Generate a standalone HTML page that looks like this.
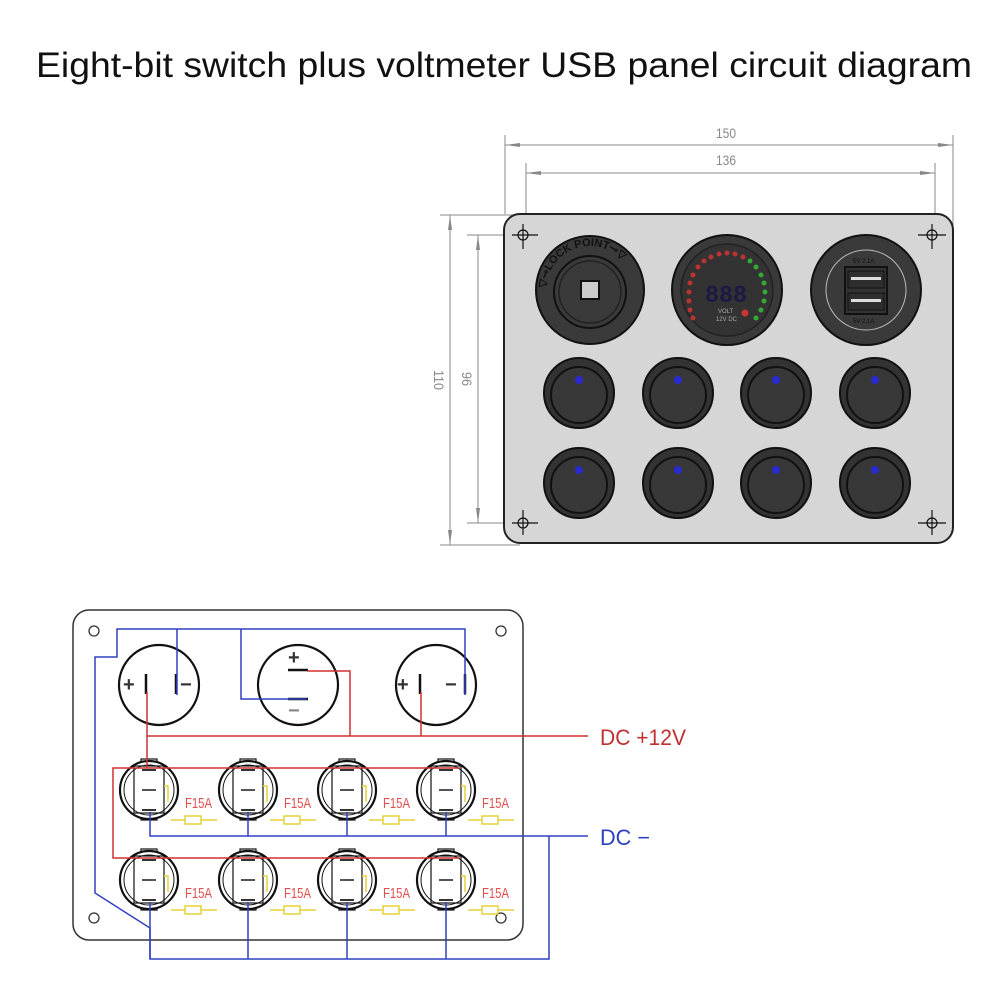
<!DOCTYPE html>
<html><head><meta charset="utf-8"><style>html,body{margin:0;padding:0;background:#fff}svg{display:block}</style></head>
<body>
<svg width="1000" height="1000" viewBox="0 0 1000 1000" xmlns="http://www.w3.org/2000/svg" font-family="Liberation Sans, sans-serif">
<text x="36" y="77" font-size="35" textLength="936" lengthAdjust="spacingAndGlyphs" fill="#111">Eight-bit switch plus voltmeter USB panel circuit diagram</text>

<g stroke="#888" stroke-width="1" fill="none">
<line x1="505" y1="135" x2="505" y2="214"/><line x1="953" y1="135" x2="953" y2="225"/>
<line x1="505" y1="145" x2="953" y2="145"/>
<line x1="526" y1="163" x2="526" y2="240"/><line x1="935" y1="163" x2="935" y2="240"/>
<line x1="526" y1="173" x2="935" y2="173"/>
<line x1="440" y1="215" x2="520" y2="215"/><line x1="440" y1="545" x2="520" y2="545"/>
<line x1="450" y1="215" x2="450" y2="545"/>
<line x1="467" y1="235" x2="520" y2="235"/><line x1="467" y1="523" x2="520" y2="523"/>
<line x1="478" y1="235" x2="478" y2="523"/>
</g>
<g fill="#888">
<polygon points="505,145 520,143 520,147"/><polygon points="953,145 938,143 938,147"/>
<polygon points="526,173 541,171 541,175"/><polygon points="935,173 920,171 920,175"/>
<polygon points="450,215 448,230 452,230"/><polygon points="450,545 448,530 452,530"/>
<polygon points="478,235 476,250 480,250"/><polygon points="478,523 476,508 480,508"/>
</g>
<g fill="#888" font-size="14">
<text x="716" y="138" textLength="20" lengthAdjust="spacingAndGlyphs">150</text>
<text x="716" y="165" textLength="20" lengthAdjust="spacingAndGlyphs">136</text>
<text transform="translate(434,370) rotate(90)" textLength="20" lengthAdjust="spacingAndGlyphs">110</text>
<text transform="translate(462,372) rotate(90)" textLength="14" lengthAdjust="spacingAndGlyphs">96</text>
</g>

<rect x="504" y="214" width="449" height="329" rx="16" fill="#d6d6d6" stroke="#222" stroke-width="2"/>
<g stroke="#111" stroke-width="1.2" fill="none">
<circle cx="523" cy="235" r="5"/><line x1="512" y1="235" x2="538" y2="235"/><line x1="523" y1="224" x2="523" y2="249"/>
<circle cx="932" cy="235" r="5"/><line x1="918" y1="235" x2="946" y2="235"/><line x1="932" y1="224" x2="932" y2="249"/>
<circle cx="523" cy="523" r="5"/><line x1="512" y1="523" x2="538" y2="523"/><line x1="523" y1="510" x2="523" y2="535"/>
<circle cx="932" cy="523" r="5"/><line x1="918" y1="523" x2="946" y2="523"/><line x1="932" y1="510" x2="932" y2="535"/>
</g>
<circle cx="590" cy="290" r="54" fill="#3a3a3a" stroke="#111" stroke-width="2"/>
<circle cx="590" cy="292" r="36" fill="#3a3a3a" stroke="#111" stroke-width="2"/>
<circle cx="590" cy="292" r="31" fill="none" stroke="#222" stroke-width="1.5"/>
<rect x="581" y="281" width="18" height="18" fill="#ccc" stroke="#111" stroke-width="2"/>
<path id="arc1" d="M546,290 A44,44 0 0 1 634,290" fill="none"/>
<text font-size="11" font-weight="bold" fill="#111"><textPath href="#arc1" startOffset="2">▽⊸LOCK POINT⊸▽</textPath></text>
<circle cx="727" cy="290" r="55" fill="#3a3a3a" stroke="#111" stroke-width="2"/>
<circle cx="727" cy="290" r="46" fill="#333" stroke="#222" stroke-width="1.5"/>
<g>
<circle cx="693" cy="318" r="2.5" fill="#b33"/><circle cx="690" cy="310" r="2.5" fill="#b33"/><circle cx="689" cy="301" r="2.5" fill="#b33"/><circle cx="689" cy="292" r="2.5" fill="#b33"/><circle cx="690" cy="283" r="2.5" fill="#b33"/><circle cx="693" cy="275" r="2.5" fill="#b33"/><circle cx="698" cy="267" r="2.5" fill="#b33"/><circle cx="704" cy="261" r="2.5" fill="#b33"/><circle cx="711" cy="257" r="2.5" fill="#b33"/><circle cx="719" cy="254" r="2.5" fill="#b33"/><circle cx="727" cy="253" r="2.5" fill="#b33"/><circle cx="735" cy="254" r="2.5" fill="#b33"/><circle cx="743" cy="257" r="2.5" fill="#b33"/>
<circle cx="750" cy="261" r="2.5" fill="#3a3"/><circle cx="756" cy="267" r="2.5" fill="#3a3"/><circle cx="761" cy="275" r="2.5" fill="#3a3"/><circle cx="764" cy="283" r="2.5" fill="#3a3"/><circle cx="765" cy="292" r="2.5" fill="#3a3"/><circle cx="764" cy="301" r="2.5" fill="#3a3"/><circle cx="761" cy="310" r="2.5" fill="#3a3"/><circle cx="756" cy="318" r="2.5" fill="#3a3"/>
<circle cx="745" cy="313" r="3.5" fill="#c33"/>
</g>
<text x="705" y="302" font-size="24" font-family="Liberation Mono, monospace" font-weight="bold" fill="#1a1a44" textLength="42" lengthAdjust="spacingAndGlyphs">888</text>
<text x="718" y="313" font-size="6" fill="#aaa">VOLT</text><text x="716" y="321" font-size="6" fill="#aaa">12V DC</text>
<circle cx="866" cy="290" r="55" fill="#3a3a3a" stroke="#111" stroke-width="2"/>
<circle cx="866" cy="290" r="40" fill="#3a3a3a" stroke="#bbb" stroke-width="1"/>
<rect x="845" y="267" width="42" height="47" fill="#333" stroke="#111" stroke-width="2"/>
<rect x="848" y="271" width="36" height="17" fill="#2e2e2e" stroke="#111"/><rect x="848" y="293" width="36" height="17" fill="#2e2e2e" stroke="#111"/>
<rect x="851" y="277" width="30" height="3" fill="#ddd"/><rect x="851" y="299" width="30" height="3" fill="#ddd"/>
<text x="853" y="263" font-size="6" fill="#111">5V 2.1A</text><text x="853" y="323" font-size="6" fill="#111">5V 2.1A</text>
</svg>
<svg width="1000" height="1000" viewBox="0 0 1000 1000" xmlns="http://www.w3.org/2000/svg" style="position:absolute;left:0;top:0" font-family="Liberation Sans, sans-serif">
<defs>
<g id="s">
<circle cx="0" cy="0" r="35" fill="#333" stroke="#111" stroke-width="2"/>
<circle cx="0" cy="2" r="28" fill="#383838" stroke="#111" stroke-width="2"/>
<circle cx="0" cy="-13" r="4" fill="#2a2ad0"/>
</g>
<g id="w">
<rect x="-8" y="-31" width="16" height="6" fill="#fff" stroke="#111" stroke-width="1.2"/>
<rect x="-8" y="24" width="16" height="6" fill="#fff" stroke="#111" stroke-width="1.2"/>
<circle cx="0" cy="0" r="29" fill="#fff" stroke="#111" stroke-width="2.2"/>
<circle cx="0" cy="0" r="25" fill="none" stroke="#111" stroke-width="1"/>
<rect x="-15" y="-24" width="30" height="47" fill="none" stroke="#111" stroke-width="1.2"/>
<rect x="-7" y="-21" width="14" height="2" fill="#333"/><rect x="-7" y="-1" width="14" height="2" fill="#555"/><rect x="-7" y="19" width="14" height="2" fill="#333"/>
<polyline points="15,-4 19,-4 19,12" fill="none" stroke="#e6d23a" stroke-width="1.5"/>
<text x="36" y="18" font-size="15" fill="#e05050" textLength="27" lengthAdjust="spacingAndGlyphs">F15A</text>
<line x1="22" y1="30" x2="68" y2="30" stroke="#e6d23a" stroke-width="1.5"/>
<rect x="36" y="26" width="16" height="8" fill="#fff" stroke="#e6d23a" stroke-width="1.5"/>
</g>
</defs>
<use href="#s" x="579" y="393"/><use href="#s" x="678" y="393"/><use href="#s" x="776" y="393"/><use href="#s" x="875" y="393"/>
<use href="#s" x="579" y="483"/><use href="#s" x="678" y="483"/><use href="#s" x="776" y="483"/><use href="#s" x="875" y="483"/>

<rect x="73" y="610" width="450" height="330" rx="16" fill="#fff" stroke="#333" stroke-width="1.5"/>
<g fill="none" stroke="#333" stroke-width="1.3">
<circle cx="94" cy="631" r="5"/><circle cx="501" cy="631" r="5"/><circle cx="94" cy="918" r="5"/><circle cx="501" cy="918" r="5"/>
</g>
<g fill="#fff" stroke="#111" stroke-width="2.2">
<circle cx="159" cy="685" r="40"/><circle cx="298" cy="685" r="40"/><circle cx="436" cy="685" r="40"/>
</g>
<g stroke="#111" stroke-width="2.5">
<line x1="146" y1="674" x2="146" y2="694"/><line x1="176" y1="674" x2="176" y2="694"/>
<line x1="420" y1="674" x2="420" y2="694"/><line x1="465" y1="674" x2="465" y2="694"/>
<line x1="288" y1="670" x2="308" y2="670"/><line x1="288" y1="699" x2="308" y2="699"/>
</g>
<g font-size="20" fill="#333" font-weight="bold">
<text x="123" y="691">+</text><text x="180" y="691">−</text>
<text x="288" y="664">+</text><text x="288" y="717" fill="#888">−</text>
<text x="397" y="691">+</text><text x="445" y="691">−</text>
</g>
<use href="#w" x="149" y="790"/><use href="#w" x="248" y="790"/><use href="#w" x="347" y="790"/><use href="#w" x="446" y="790"/>
<use href="#w" x="149" y="880"/><use href="#w" x="248" y="880"/><use href="#w" x="347" y="880"/><use href="#w" x="446" y="880"/>
<g fill="none" stroke="#d03030" stroke-width="1.5">
<polyline points="147,692 147,768"/>
<polyline points="147,736 588,736"/>
<polyline points="307,671 350,671 350,736"/>
<polyline points="421,692 421,736"/>
<polyline points="460,768 113,768 113,858 460,858"/>
</g>
<g fill="none" stroke="#3040c0" stroke-width="1.5">
<polyline points="177,695 177,629"/>
<polyline points="465,695 465,629 117,629 117,657 95,657 95,893 150,928 150,959 549,959 549,836"/>
<polyline points="241,629 241,699 307,699"/>
<polyline points="150,812 150,836 588,836"/>
<line x1="248" y1="812" x2="248" y2="836"/><line x1="347" y1="812" x2="347" y2="836"/><line x1="446" y1="812" x2="446" y2="836"/>
<line x1="248" y1="902" x2="248" y2="959"/><line x1="347" y1="902" x2="347" y2="959"/><line x1="446" y1="902" x2="446" y2="959"/><line x1="150" y1="902" x2="150" y2="959"/>
</g>
<text x="600" y="745" font-size="22" fill="#c03030" textLength="86" lengthAdjust="spacingAndGlyphs">DC +12V</text>
<text x="600" y="845" font-size="22" fill="#3040c0" textLength="50" lengthAdjust="spacingAndGlyphs">DC −</text>
</svg>
</body></html>
